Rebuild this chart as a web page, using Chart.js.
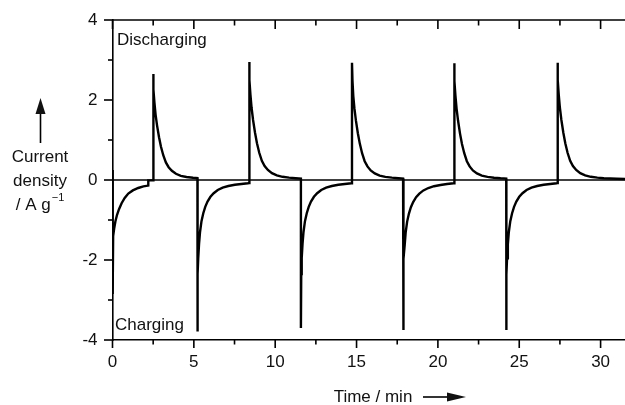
<!DOCTYPE html>
<html>
<head>
<meta charset="utf-8">
<script src="https://cdn.jsdelivr.net/npm/chart.js@4.4.1/dist/chart.umd.min.js"></script>
<style>
  html, body { margin: 0; padding: 0; background: #fff; }
  #wrap { width: 625px; height: 405px; }
</style>
</head>
<body>
<div id="wrap"><canvas id="chart" width="625" height="405"></canvas></div>
<script>
// time (min) and current density (A/g), one row per charge / discharge step
var timeMin = [
  0, 0.01, 0.04, 0.1, 0.18, 0.28, 0.4, 0.56, 0.75, 0.97, 1.25, 1.58, 1.9, 2.2, 2.2, 2.5,
  2.5, 2.53, 2.58, 2.65, 2.74, 2.86, 2.98, 3.12, 3.28, 3.45, 3.65, 3.9, 4.2, 4.55, 4.95, 5.22,
  5.22, 5.24, 5.27, 5.32, 5.38, 5.47, 5.58, 5.7, 5.84, 6.02, 6.22, 6.47, 6.77, 7.12, 7.52, 7.92, 8.32, 8.4,
  8.4, 8.43, 8.48, 8.55, 8.64, 8.76, 8.88, 9.02, 9.18, 9.35, 9.55, 9.8, 10.1, 10.45, 10.85, 11.25, 11.58,
  11.58, 11.6, 11.63, 11.68, 11.74, 11.83, 11.94, 12.06, 12.2, 12.38, 12.58, 12.83, 13.13, 13.48, 13.88, 14.28, 14.68, 14.72,
  14.72, 14.75, 14.8, 14.87, 14.96, 15.08, 15.2, 15.34, 15.5, 15.67, 15.87, 16.12, 16.42, 16.77, 17.17, 17.57, 17.86,
  17.86, 17.88, 17.91, 17.96, 18.02, 18.11, 18.22, 18.34, 18.48, 18.66, 18.86, 19.11, 19.41, 19.76, 20.16, 20.56, 20.96, 21.0,
  21.0, 21.03, 21.08, 21.15, 21.24, 21.36, 21.48, 21.62, 21.78, 21.95, 22.15, 22.4, 22.7, 23.05, 23.45, 23.85, 24.2,
  24.2, 24.22, 24.25, 24.3, 24.36, 24.45, 24.56, 24.68, 24.82, 25.0, 25.2, 25.45, 25.75, 26.1, 26.5, 26.9, 27.3, 27.35,
  27.35, 27.38, 27.43, 27.5, 27.59, 27.71, 27.83, 27.97, 28.13, 28.3, 28.5, 28.75, 29.05, 29.4, 29.8, 30.2, 30.6, 31.0, 31.5
];
var currentDensity = [
  0.25, -2.85, -1.4, -1.22, -1.03, -0.87, -0.73, -0.58, -0.45, -0.34, -0.26, -0.2, -0.16, -0.14, -0.01, -0.01,
  2.65, 2.26, 1.92, 1.63, 1.36, 1.07, 0.83, 0.62, 0.44, 0.32, 0.23, 0.155, 0.105, 0.075, 0.055, 0.045,
  -3.79, -2.35, -1.95, -1.6, -1.3, -1.03, -0.83, -0.67, -0.54, -0.42, -0.33, -0.25, -0.19, -0.15, -0.12, -0.1, -0.08, -0.075,
  2.95, 2.5, 2.12, 1.8, 1.5, 1.18, 0.92, 0.68, 0.48, 0.35, 0.25, 0.17, 0.115, 0.08, 0.06, 0.045, 0.035,
  -3.7, -2.35, -1.95, -1.6, -1.3, -1.03, -0.83, -0.67, -0.54, -0.42, -0.33, -0.25, -0.19, -0.15, -0.12, -0.1, -0.08, -0.078,
  2.93, 2.48, 2.1, 1.79, 1.49, 1.17, 0.91, 0.67, 0.47, 0.34, 0.24, 0.165, 0.11, 0.078, 0.058, 0.044, 0.036,
  -3.75, -2.38, -1.97, -1.62, -1.31, -1.04, -0.84, -0.68, -0.55, -0.43, -0.34, -0.26, -0.2, -0.155, -0.125, -0.1, -0.082, -0.08,
  2.92, 2.47, 2.1, 1.78, 1.48, 1.16, 0.9, 0.67, 0.47, 0.34, 0.24, 0.165, 0.11, 0.078, 0.057, 0.043, 0.034,
  -3.75, -2.36, -1.96, -1.61, -1.3, -1.03, -0.83, -0.67, -0.54, -0.42, -0.33, -0.25, -0.19, -0.15, -0.12, -0.1, -0.08, -0.078,
  2.93, 2.5, 2.12, 1.8, 1.5, 1.18, 0.92, 0.68, 0.48, 0.35, 0.25, 0.17, 0.115, 0.08, 0.06, 0.045, 0.036, 0.03, 0.025
];

var xRange = [0, 31.5];
var yRange = [-4, 4];
var xTicks = [0, 5, 10, 15, 20, 25, 30];
var xMinorTicks = [2.5, 7.5, 12.5, 17.5, 22.5, 27.5];
var yTicks = [-4, -2, 0, 2, 4];
var yMinorTicks = [-3, -1, 1, 3];

var FONT = '"Liberation Sans", Arial, Helvetica, sans-serif';

var points = timeMin.map(function (t, i) { return { x: t, y: currentDensity[i] }; });
var zeroLine = [{ x: xRange[0], y: 0 }, { x: xRange[1], y: 0 }];

// top frame line, tick marks, annotations and axis titles with arrows
var frame = {
  id: 'frame',
  afterDraw: function (chart) {
    var c = chart.ctx, a = chart.chartArea;
    var xs = chart.scales.x, ys = chart.scales.y;
    c.save();
    c.strokeStyle = '#000';
    c.fillStyle = '#000';
    c.lineWidth = 1.6;

    c.beginPath();
    c.moveTo(a.left, a.top);
    c.lineTo(a.right, a.top);
    c.stroke();

    function xTick(v, len) {
      var px = xs.getPixelForValue(v);
      c.beginPath();
      c.moveTo(px, a.bottom); c.lineTo(px, a.bottom + len);
      c.moveTo(px, a.top); c.lineTo(px, a.top + len + 1);
      c.stroke();
    }
    function yTick(v, len) {
      var py = ys.getPixelForValue(v);
      c.beginPath();
      c.moveTo(a.left, py); c.lineTo(a.left - len, py);
      c.stroke();
    }
    xTicks.forEach(function (v) { xTick(v, 8); });
    xMinorTicks.forEach(function (v) { xTick(v, 4.5); });
    yTicks.forEach(function (v) { yTick(v, 8.5); });
    yMinorTicks.forEach(function (v) { yTick(v, 4.5); });

    c.font = '17px ' + FONT;
    c.textBaseline = 'middle';
    c.textAlign = 'left';
    c.fillStyle = '#111';
    c.fillText('Discharging', xs.getPixelForValue(0.28), ys.getPixelForValue(3.48));
    c.fillText('Charging', xs.getPixelForValue(0.15), ys.getPixelForValue(-3.64));

    // x title
    c.textAlign = 'center';
    c.fillText('Time / min', 373, 397);
    c.lineWidth = 1.6;
    c.beginPath();
    c.moveTo(423, 397); c.lineTo(450, 397);
    c.stroke();
    c.beginPath();
    c.moveTo(466, 397); c.lineTo(447, 392.5); c.lineTo(447, 401.5);
    c.closePath(); c.fill();

    // y title
    c.fillText('Current', 40, 157);
    c.fillText('density', 40, 181);
    var main = '/ A g', sup = '\u22121';
    var wMain = c.measureText(main).width;
    c.font = '11px ' + FONT;
    var wSup = c.measureText(sup).width;
    var x0 = 40 - (wMain + wSup + 1) / 2;
    c.textAlign = 'left';
    c.fillText(sup, x0 + wMain + 1, 198);
    c.font = '17px ' + FONT;
    c.fillText(main, x0, 205);

    c.beginPath();
    c.moveTo(40.5, 143); c.lineTo(40.5, 110);
    c.stroke();
    c.beginPath();
    c.moveTo(40.5, 98); c.lineTo(35.5, 114); c.lineTo(45.5, 114);
    c.closePath(); c.fill();

    c.restore();
  }
};

var tickFont = { family: FONT, size: 17 };

new Chart(document.getElementById('chart').getContext('2d'), {
  type: 'scatter',
  data: {
    datasets: [
      { data: zeroLine, showLine: true, borderColor: '#000', borderWidth: 1.5, pointRadius: 0 },
      { data: points, showLine: true, borderColor: '#000', borderWidth: 2.4, pointRadius: 0, tension: 0 }
    ]
  },
  options: {
    responsive: false,
    animation: false,
    layout: { padding: { top: 20, left: 0, right: 0, bottom: 0 } },
    plugins: { legend: { display: false }, tooltip: { enabled: false } },
    scales: {
      x: {
        type: 'linear', min: xRange[0], max: xRange[1],
        afterBuildTicks: function (s) { s.ticks = xTicks.map(function (v) { return { value: v }; }); },
        afterFit: function (s) { s.height = 65; s.paddingLeft = 0; s.paddingRight = 0; },
        grid: { drawOnChartArea: false, drawTicks: false },
        border: { display: true, color: '#000', width: 1.6 },
        ticks: { padding: 12, color: '#111', font: tickFont, maxRotation: 0, callback: function (v) { return String(v); } }
      },
      y: {
        type: 'linear', min: yRange[0], max: yRange[1],
        afterBuildTicks: function (s) { s.ticks = yTicks.map(function (v) { return { value: v }; }); },
        afterFit: function (s) { s.width = 112.5; s.paddingTop = 0; s.paddingBottom = 0; },
        grid: { drawOnChartArea: false, drawTicks: false },
        border: { display: true, color: '#000', width: 1.6 },
        ticks: { padding: 15, color: '#111', font: tickFont, callback: function (v) { return String(v); } }
      }
    }
  },
  plugins: [frame]
});
</script>
</body>
</html>
